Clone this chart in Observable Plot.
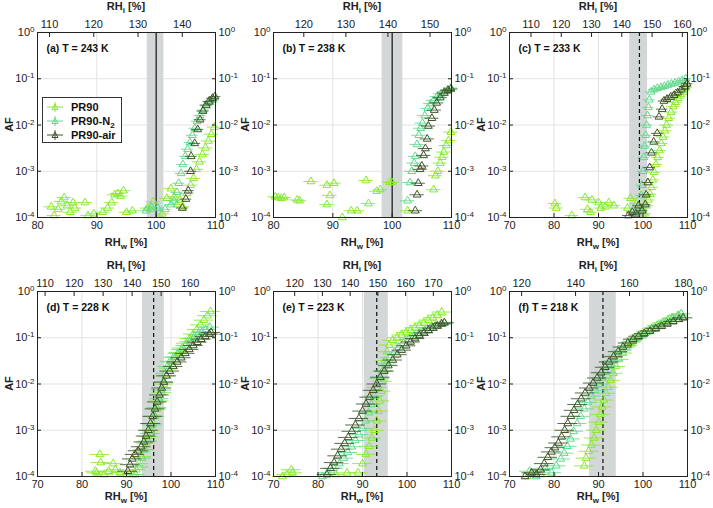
<!DOCTYPE html>
<html><head><meta charset="utf-8">
<script src="https://cdn.jsdelivr.net/npm/d3@7"></script>
<script src="https://cdn.jsdelivr.net/npm/@observablehq/plot@0.6"></script>
<style>
body{margin:0;background:#fff;font-family:"Liberation Sans",Arial,sans-serif;}
#wrap{position:relative;width:713px;height:508px;overflow:hidden;}
#wrap > svg{position:absolute;overflow:visible;}
#legend{position:absolute;left:42px;top:97px;width:80px;height:46px;border:1px solid #333;background:#fff;box-sizing:border-box;}
.li{position:absolute;left:3px;height:14px;font:bold 11px "Liberation Sans",Arial,sans-serif;display:flex;align-items:center;white-space:nowrap;color:#111;}
.li span{margin-left:7px;}
</style></head>
<body><div id="wrap"></div>
<script>
// ---- series names & colours ----
const seriesNames = ["PR90", "PR90-N2", "PR90-air"];
const seriesColors = ["#86ea2c", "#62d98c", "#3f5328"];
// ---- panel meta ----
const panelLabels = ["(a) T = 243 K", "(b) T = 238 K", "(c) T = 233 K", "(d) T = 228 K", "(e) T = 223 K", "(f) T = 218 K"];
const xMin = [80, 80, 70, 70, 70, 70];
const xMax = [110, 110, 110, 110, 110, 110];
const xTicksA = [80, 90, 100, 110];
const xTicksB = [70, 80, 90, 100, 110];
const iceRatio = [1.341, 1.41, 1.47, 1.534, 1.605, 1.65];   // RHi / RHw
const rhiTicks = [[110,120,130,140],[120,130,140,150],[110,120,130,140,150,160],[110,120,130,140,150,160],[120,130,140,150,160,170],[120,140,160,180]];
const bandLo = [98.5, 98.3, 97.0, 93.6, 90.4, 88.0];
const bandHi = [101.3, 101.8, 101.0, 98.5, 95.8, 94.0];
const threshold = [100, 100, 99.2, 96.1, 93.2, 91.0];
const thresholdDashed = [false, false, true, true, true, true];
const yTicks = [1e-4, 1e-3, 1e-2, 1e-1, 1];
// horizontal error half-widths (RHw %) per panel, per series
const errPR90 = [1.2, 1.2, 1.5, 2.2, 2.2, 2.2];
const errN2   = [1.0, 1.2, 1.3, 2.2, 2.2, 2.2];
const errAir  = [1.0, 1.2, 1.3, 2.2, 2.2, 2.2];

// ---- data [RHw, AF] ----
const a_PR90 = [[82.3,1.7e-4],[82.8,1.1e-4],[83.5,1.5e-4],[84,2.2e-4],[84.5,2.7e-4],[85,1.8e-4],[85.5,1.3e-4],[86,2.1e-4],[86.3,1.6e-4],[88,2.1e-4],[88.5,1.1e-4],[89.5,1.2e-4],[91,1.3e-4],[91.8,1.6e-4],[92.5,2.1e-4],[93,3.1e-4],[93.5,3.3e-4],[94,2.9e-4],[94.5,3.8e-4],[95,1.3e-4],[96,1.4e-4],[98.5,1.6e-4],[99,1.5e-4],[99.5,2.2e-4],[101,1.2e-4],[101.8,2.6e-4],[102.5,4.2e-4],[103,2.8e-4],[103.5,1.9e-4],[104,2.4e-4],[104.5,1.7e-4],[105.2,3.3e-4],[105.8,5e-4],[106.3,7e-4],[106.8,1.1e-3],[107.3,1.6e-3],[107.8,2.3e-3],[108.3,3.2e-3],[108.8,4.5e-3],[109.3,6.3e-3],[109.8,9e-3]];
const a_N2 = [[98.3,1.4e-4],[99.2,1.7e-4],[100.3,1.6e-4],[101.5,1.5e-4],[102.5,1.9e-4],[103,2.3e-4],[103.5,3.5e-4],[103.8,5.5e-4],[104.2,9e-4],[104.5,1.4e-3],[104.9,2.1e-3],[105.3,3e-3],[105.7,4.2e-3],[106.1,6e-3],[106.5,8.5e-3],[106.9,1.2e-2],[107.4,1.6e-2],[107.9,2.1e-2],[108.5,2.6e-2],[109.1,3.1e-2],[109.6,3.5e-2]];
const a_air = [[104.4,1.6e-4],[105,2.5e-4],[105.4,3.8e-4],[105.8,1e-3],[105.9,2.1e-3],[106.5,4e-3],[107,8e-3],[107.4,1.3e-2],[107.9,2e-2],[108.4,2.7e-2],[108.9,3.2e-2],[109.5,3.8e-2],[109.9,4.1e-2]];

const b_PR90 = [[80.3,2.8e-4],[80.8,2.7e-4],[81.3,2.6e-4],[81.8,2.7e-4],[84,2.4e-4],[84.4,2.3e-4],[86.3,6e-4],[89,5e-4],[89,1.9e-4],[89.5,3e-4],[90.2,5.5e-4],[91.6,1e-4],[93.1,1.4e-4],[94.1,1.4e-4],[95.6,6.3e-4],[96,2e-4],[97.4,3.7e-4],[98,4e-4],[99.6,5.8e-4],[100,5.7e-4],[102.6,1.4e-4],[107,4e-4],[107.3,8e-4],[107.7,1e-3],[108.1,1.5e-3],[108.4,2e-3],[108.7,2.6e-3],[109.1,3.6e-3],[109.5,4.6e-3],[109.9,7e-3]];
const b_N2 = [[102.6,2.3e-4],[103,5.7e-4],[103.3,1e-3],[103.7,1.5e-3],[103.9,2.1e-3],[104.2,3.8e-3],[104.5,6e-3],[104.8,8.5e-3],[105.1,1.1e-2],[105.5,1.6e-2],[106,2.3e-2],[106.5,2.9e-2],[107,3.4e-2],[107.6,4.1e-2],[108.2,4.7e-2],[108.8,5.3e-2],[109.4,5.8e-2],[109.9,6.3e-2]];
const b_air = [[103.9,1.4e-4],[104.2,3.1e-4],[104.4,5.5e-4],[104.7,1.1e-3],[105,1.3e-3],[105.3,2.2e-3],[105.6,3.1e-3],[105.9,5e-3],[106.1,9.5e-3],[106.7,1.4e-2],[107.1,2.1e-2],[107.5,3e-2],[108.1,3.9e-2],[108.8,4.9e-2],[109.4,5.6e-2],[109.9,6e-2]];

const c_PR90 = [[80.2,2e-4],[80.5,1.6e-4],[84,1.1e-4],[87,2.7e-4],[87.5,1.5e-4],[88.2,1.3e-4],[88.5,2.4e-4],[90,2.1e-4],[90.5,1.6e-4],[91.5,1.7e-4],[92.3,2.1e-4],[93.5,1.8e-4],[96.5,1.6e-4],[97.2,2.6e-4],[98.5,2e-4],[99.5,1.5e-4],[100.4,1.2e-4],[100.8,1.8e-4],[101.2,2.4e-4],[101.6,3.2e-4],[101.9,4.5e-4],[102.2,6.5e-4],[102.5,9.5e-4],[102.9,1.4e-3],[103.3,2e-3],[103.7,2.8e-3],[104.1,4e-3],[104.5,5.5e-3],[104.9,7.5e-3],[105.3,1e-2],[105.8,1.4e-2],[106.3,1.9e-2],[106.8,2.5e-2],[107.3,3.1e-2],[107.9,3.8e-2],[108.5,4.6e-2],[109.1,5.5e-2],[109.7,6.6e-2]];
const c_N2 = [[98.2,1.3e-4],[99.2,1.6e-4],[99.6,3e-4],[99.8,5e-4],[100,1e-3],[100.2,2e-3],[100.4,3.5e-3],[100.6,6e-3],[100.8,1e-2],[101,1.6e-2],[101.2,2.4e-2],[101.4,3.5e-2],[101.8,5.2e-2],[102.5,5.8e-2],[103.2,6.2e-2],[104,6.5e-2],[104.8,6.9e-2],[105.6,7.3e-2],[106.4,7.7e-2],[107.2,8.1e-2],[108,8.6e-2],[108.8,9.2e-2],[109.6,1e-1]];
const c_air = [[96.7,1.1e-4],[97.6,1.3e-4],[98.4,1.2e-4],[99,1.8e-4],[99.8,1.4e-4],[100.5,1.9e-4],[100.7,3.1e-4],[101.1,5.7e-4],[101.5,1.2e-3],[101.9,2.5e-3],[102.4,4.3e-3],[103.2,6.6e-3],[103.6,1.5e-2],[104.3,2.2e-2],[104.7,3.3e-2],[105.4,3.6e-2],[106.2,4e-2],[107,4.4e-2],[107.8,5e-2],[108.6,5.8e-2],[109.4,6.8e-2],[109.9,7.8e-2]];

const d_PR90 = [[83,1.3e-4],[83.3,1.2e-4],[84,3e-4],[84.2,2e-4],[85,1.1e-4],[86,1.3e-4],[87,1.9e-4],[87.5,1.4e-4],[88.5,1.2e-4],[90,1.1e-4],[91.5,1.1e-4],[92.2,1.4e-4],[92.8,1.9e-4],[93.4,2.7e-4],[93.9,3.8e-4],[94.4,5.3e-4],[94.9,7.3e-4],[95.4,1e-3],[95.9,1.4e-3],[96.4,2e-3],[96.9,2.9e-3],[97.4,4.3e-3],[97.9,6.5e-3],[98.4,1e-2],[98.9,1.5e-2],[99.5,2.2e-2],[100.2,3e-2],[101,3.8e-2],[101.8,4.8e-2],[102.6,6e-2],[103.4,7.6e-2],[104.2,9.6e-2],[105,0.12],[105.8,0.15],[106.6,0.19],[107.4,0.24],[108.2,0.3],[108.9,0.37]];
const d_N2 = [[92,1.1e-4],[92.8,1.6e-4],[93.5,2.5e-4],[94.2,3.8e-4],[94.8,5.8e-4],[95.3,8.5e-4],[95.8,1.3e-3],[96.3,2e-3],[96.8,3.1e-3],[97.3,4.8e-3],[97.8,7.4e-3],[98.3,1.1e-2],[98.7,1.7e-2],[99.2,2.4e-2],[99.8,3.1e-2],[100.6,3.8e-2],[101.5,4.6e-2],[102.4,5.6e-2],[103.3,6.8e-2],[104.2,8.2e-2],[105.1,9.8e-2],[106,0.115],[106.9,0.13],[107.8,0.15],[108.7,0.17]];
const d_air = [[90.3,1.3e-4],[90.8,1.8e-4],[91.3,2.4e-4],[91.9,3e-4],[92.6,3.6e-4],[93.3,4.4e-4],[93.9,5.6e-4],[94.4,7.5e-4],[94.9,1e-3],[95.4,1.4e-3],[95.9,2e-3],[96.4,2.9e-3],[96.9,4.1e-3],[97.4,5.8e-3],[97.9,8.2e-3],[98.4,1.1e-2],[99,1.5e-2],[99.7,1.9e-2],[100.5,2.4e-2],[101.4,3e-2],[102.3,3.7e-2],[103.2,4.6e-2],[104.1,5.6e-2],[105,6.8e-2],[105.9,8e-2],[106.8,9.3e-2],[107.7,0.107],[108.6,0.12],[109,0.13]];

const e_PR90 = [[72,1e-4],[73,1.1e-4],[74,1.4e-4],[74.3,1.2e-4],[84,1.1e-4],[86.5,1.2e-4],[89,1.2e-4],[90,1.9e-4],[90.8,3e-4],[91.5,4.5e-4],[92.1,6.8e-4],[92.7,1e-3],[93.2,1.6e-3],[93.6,2.6e-3],[93.9,4.3e-3],[94.2,7e-3],[94.5,1.15e-2],[94.8,1.9e-2],[95.1,3.2e-2],[95.5,5e-2],[96,7e-2],[96.8,8.8e-2],[97.8,0.1],[98.8,0.115],[99.8,0.13],[100.8,0.145],[101.8,0.165],[102.8,0.185],[103.8,0.21],[104.8,0.24],[105.8,0.27],[106.8,0.31],[107.8,0.36]];
const e_N2 = [[81,1e-4],[82.2,1.2e-4],[83.5,1.5e-4],[84.8,1.9e-4],[85.8,2.5e-4],[86.7,3.3e-4],[87.6,4.4e-4],[88.4,6e-4],[89.2,8e-4],[90,1.1e-3],[90.7,1.6e-3],[91.4,2.4e-3],[92,3.6e-3],[92.6,5.5e-3],[93.2,8.5e-3],[93.8,1.3e-2],[94.5,1.9e-2],[95.3,2.7e-2],[96.2,3.7e-2],[97.2,4.9e-2],[98.2,6.2e-2],[99.2,7.6e-2],[100.4,9.2e-2],[101.6,0.108],[102.8,0.125],[104,0.142],[105.2,0.16],[106.4,0.18],[107.6,0.2],[108.4,0.215]];
const e_air = [[82,1.1e-4],[82.8,1.5e-4],[83.6,2e-4],[84.4,2.8e-4],[85.2,3.9e-4],[86,5.2e-4],[86.8,7e-4],[87.6,9.5e-4],[88.4,1.3e-3],[89.2,1.8e-3],[90,2.6e-3],[90.8,3.7e-3],[91.6,5.2e-3],[92.4,7.3e-3],[93.2,1e-2],[94,1.4e-2],[94.9,1.9e-2],[95.8,2.5e-2],[96.8,3.3e-2],[97.8,4.3e-2],[98.8,5.4e-2],[99.8,6.7e-2],[100.8,8.1e-2],[101.8,9.6e-2],[102.8,0.112],[103.8,0.128],[104.8,0.145],[105.8,0.162],[106.8,0.18],[107.8,0.2],[108.4,0.21]];

const f_PR90 = [[74,1e-4],[75.5,1.2e-4],[77,1.1e-4],[86.8,1.7e-4],[87.2,2.5e-4],[87.8,3.5e-4],[88.4,4.8e-4],[89,6.8e-4],[89.5,1e-3],[90,1.5e-3],[90.4,2.2e-3],[90.8,3.2e-3],[91.2,4.5e-3],[91.7,6.3e-3],[92.2,8.5e-3],[92.7,1.2e-2],[93.3,1.7e-2],[93.9,2.4e-2],[94.6,3.4e-2],[95.4,4.7e-2],[96.3,6.3e-2],[97.3,8e-2],[98.4,9.8e-2],[99.6,0.117],[100.8,0.137],[102,0.16],[103.2,0.185],[104.4,0.21],[105.6,0.24],[106.8,0.27],[108,0.31]];
const f_N2 = [[74.5,1.3e-4],[76,1e-4],[78,1.5e-4],[79.5,1.2e-4],[80.5,1.7e-4],[81.5,2.4e-4],[82.3,3.2e-4],[83,4.5e-4],[83.7,6.5e-4],[84.4,9.5e-4],[85.2,1.4e-3],[86,2e-3],[86.8,2.9e-3],[87.6,4e-3],[88.4,5.5e-3],[89.2,7.4e-3],[90,1e-2],[90.8,1.35e-2],[91.6,1.8e-2],[92.5,2.4e-2],[93.4,3.2e-2],[94.4,4.2e-2],[95.4,5.4e-2],[96.5,6.8e-2],[97.6,8.4e-2],[98.8,0.1],[100,0.12],[101.3,0.14],[102.6,0.165],[103.9,0.19],[105.2,0.22],[106.5,0.26],[107.8,0.3],[108.6,0.33]];
const f_air = [[73.5,1e-4],[75,1.2e-4],[76,1.1e-4],[77,1.4e-4],[77.8,1.9e-4],[78.6,2.6e-4],[79.4,3.4e-4],[80.2,4.2e-4],[81,5.3e-4],[81.7,7.2e-4],[82.4,1e-3],[83.1,1.4e-3],[83.8,2e-3],[84.5,2.7e-3],[85.3,3.6e-3],[86.1,4.8e-3],[87,6.4e-3],[87.9,8.2e-3],[88.8,1.05e-2],[89.7,1.35e-2],[90.6,1.75e-2],[91.5,2.3e-2],[92.4,3e-2],[93.4,3.9e-2],[94.4,5e-2],[95.5,6.3e-2],[96.6,7.7e-2],[97.8,9.3e-2],[99,0.108],[100.3,0.124],[101.6,0.14],[102.9,0.158],[104.2,0.178],[105.5,0.2],[106.8,0.225],[108.1,0.25],[109,0.27]];

const panelData = [[a_PR90,a_N2,a_air],[b_PR90,b_N2,b_air],[c_PR90,c_N2,c_air],[d_PR90,d_N2,d_air],[e_PR90,e_N2,e_air],[f_PR90,f_N2,f_air]];
const panelErr = [errPR90, errN2, errAir];

const FONT = '"Liberation Sans", Arial, sans-serif';
const W = 237, H = 254;
const lefts = [0, 236, 472], tops = [0, 259];
const titleY = [246, 241];
const wrap = document.getElementById("wrap");

for (let i = 0; i < 6; i++) {
  const k = iceRatio[i];
  const xt = xMin[i] === 80 ? xTicksA : xTicksB;
  const col = i % 3, row = Math.floor(i / 3);
  const marks = [
    Plot.gridX(xt, {stroke: "#e2e2e2", strokeOpacity: 1}),
    Plot.gridY(yTicks, {stroke: "#e2e2e2", strokeOpacity: 1}),
    Plot.rect([{lo: bandLo[i], hi: bandHi[i]}], {x1: "lo", x2: "hi", fill: "#d3d7d7"}),
    Plot.ruleX([threshold[i]], {stroke: "#111", strokeWidth: 1.2, strokeDasharray: thresholdDashed[i] ? "4,3" : null})
  ];
  for (let s = 0; s < 3; s++) {
    const e = panelErr[s][i];
    const d = panelData[i][s];
    marks.push(Plot.ruleY(d, {x1: p => p[0] - e, x2: p => p[0] + e, y: p => p[1], stroke: seriesColors[s], strokeWidth: 1, strokeOpacity: 0.85}));
    marks.push(Plot.dot(d, {x: p => p[0], y: p => p[1], symbol: "triangle", r: 2.9, stroke: seriesColors[s], strokeWidth: 1, fill: "none"}));
  }
  marks.push(
    Plot.frame({stroke: "#222"}),
    Plot.axisX({anchor: "bottom", ticks: xt, tickSize: -4, tickPadding: 8, label: null, fontSize: 11}),
    Plot.axisX({anchor: "top", ticks: rhiTicks[i].map(v => v / k), tickFormat: v => Math.round(v * k), tickSize: -4, tickPadding: 9, label: null, fontSize: 11}),
    Plot.axisY({anchor: "left", ticks: yTicks, tickFormat: v => "10^" + Math.round(Math.log10(v)), tickSize: -4, tickPadding: 7, label: null, fontSize: 11}),
    Plot.axisY({anchor: "right", ticks: yTicks, tickFormat: v => "10^" + Math.round(Math.log10(v)), tickSize: -4, tickPadding: 7, label: null, fontSize: 11}),
    Plot.text([panelLabels[i]], {frameAnchor: "top-left", dx: 9, dy: 12, fontWeight: "bold", fontSize: 10.5, fill: "#111"})
  );
  const svg = Plot.plot({
    width: W, height: H,
    marginLeft: 37, marginRight: 22, marginTop: 32, marginBottom: 37,
    style: {fontFamily: FONT, fontSize: "11px", color: "#222", overflow: "visible"},
    x: {domain: [xMin[i], xMax[i]]},
    y: {type: "log", domain: [1e-4, 1]},
    marks
  });
  svg.style.left = lefts[col] + "px";
  svg.style.top = tops[row] + "px";
  wrap.appendChild(svg);
  const sel = d3.select(svg);
  // superscript exponents on log tick labels
  sel.selectAll('g[aria-label="y-axis tick label"] text').each(function() {
    const t = d3.select(this);
    const parts = t.text().split("^");
    if (parts.length === 2) {
      t.text(parts[0]);
      t.append("tspan").attr("dy", "-0.5em").attr("font-size", "8px").text(parts[1]);
    }
  });
  // axis titles
  const cx = 37 + (W - 37 - 22) / 2;
  const tb = sel.append("text").attr("x", cx).attr("y", titleY[row]).attr("text-anchor", "middle")
    .attr("font-family", FONT).attr("font-weight", "bold").attr("font-size", 11).attr("fill", "#222");
  tb.append("tspan").text("RH");
  tb.append("tspan").attr("font-size", 8).attr("dy", 3).text("w");
  tb.append("tspan").attr("dy", -3).text(" [%]");
  const tt = sel.append("text").attr("x", cx).attr("y", 10).attr("text-anchor", "middle")
    .attr("font-family", FONT).attr("font-weight", "bold").attr("font-size", 11).attr("fill", "#222");
  tt.append("tspan").text("RH");
  tt.append("tspan").attr("font-size", 8).attr("dy", 3).text("i");
  tt.append("tspan").attr("dy", -3).text(" [%]");
  sel.append("text").attr("transform", `translate(13,${32 + (H - 32 - 37) / 2}) rotate(-90)`).attr("text-anchor", "middle")
    .attr("font-family", FONT).attr("font-weight", "bold").attr("font-size", 11).attr("fill", "#222").text("AF");
}

// legend (panel a)
const legend = document.createElement("div");
legend.id = "legend";
wrap.appendChild(legend);
seriesNames.forEach((name, s) => {
  const div = document.createElement("div");
  div.className = "li";
  div.style.top = (2 + s * 14) + "px";
  const c = seriesColors[s];
  const label = name === "PR90-N2" ? 'PR90-N<sub style="font-size:8px;line-height:0">2</sub>' : name;
  div.innerHTML = `<svg width="18" height="12" style="overflow:visible"><line x1="1" x2="17" y1="6" y2="6" stroke="${c}"/><line x1="9" x2="9" y1="1" y2="11" stroke="${c}"/><path d="M9,3 L12,8.5 L6,8.5 Z" fill="none" stroke="${c}"/></svg><span>${label}</span>`;
  legend.appendChild(div);
});
</script></body></html>
